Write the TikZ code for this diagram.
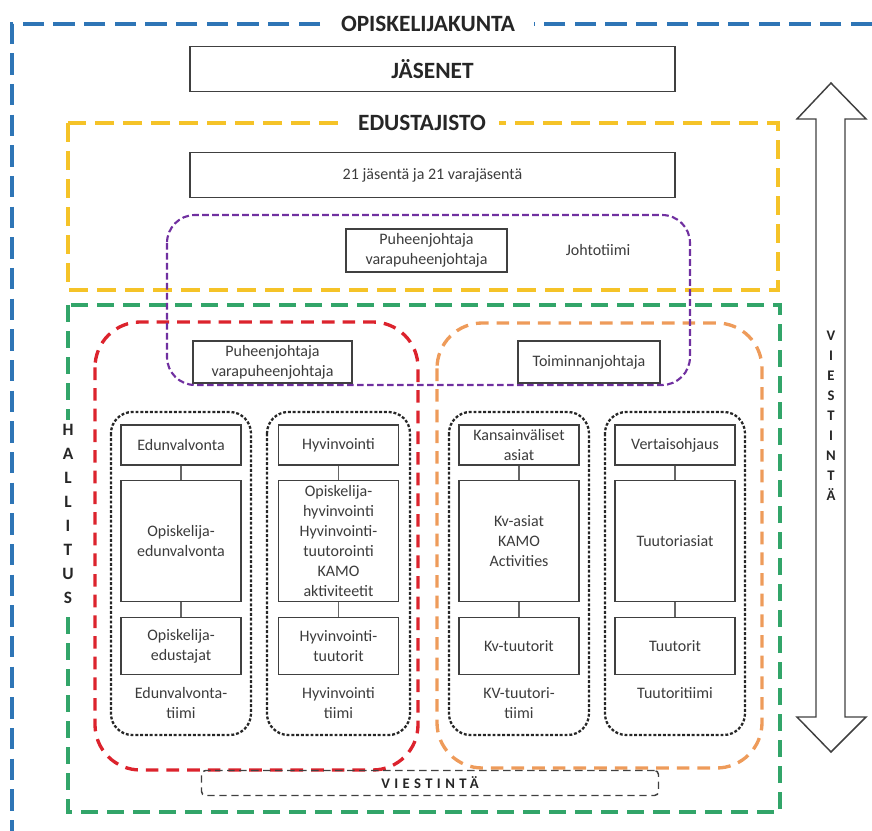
\documentclass[tikz,border=0pt]{standalone}
\usepackage{fontspec}
\setmainfont{Carlito}
\usetikzlibrary{positioning}
\definecolor{kuntablue}{RGB}{46,117,182}
\definecolor{edugold}{RGB}{245,195,40}
\definecolor{hallgreen}{RGB}{50,165,105}
\definecolor{edured}{RGB}{220,35,45}
\definecolor{toimorange}{RGB}{238,155,90}
\definecolor{johtopurple}{RGB}{112,48,160}
\definecolor{boxgray}{RGB}{64,64,64}
\definecolor{textgray}{RGB}{60,60,60}

\begin{document}
\begin{tikzpicture}[x=0.75pt,y=-0.75pt,
  every node/.style={font=\fontsize{12}{15}\selectfont, text=textgray},
  main/.style={draw=boxgray, line width=1.1pt, fill=white, align=center, inner sep=1pt},
  widebox/.style={main, minimum width=363.75pt, minimum height=33.75pt},
  headbox/.style={main, minimum width=90pt, minimum height=30pt},
  midbox/.style={main, minimum width=90pt, minimum height=90.75pt},
  footbox/.style={main, minimum width=90pt, minimum height=42.75pt},
  team/.style={align=center, inner sep=0pt},
  title/.style={fill=white, text=black!85, font=\fontsize{17.5}{20}\selectfont\bfseries},
  vtext/.style={fill=white, align=center, text=black!85, inner xsep=2pt},
  link/.style={draw=boxgray!80, line width=0.8pt},
  kunta/.style={draw=kuntablue, line width=2.3pt, dash pattern=on 16pt off 7pt},
  edu/.style={draw=edugold, line width=2.3pt, dash pattern=on 14pt off 7pt},
  hall/.style={draw=hallgreen, line width=2.3pt, dash pattern=on 12.5pt off 7pt},
  red/.style={draw=edured, line width=2.5pt, dash pattern=on 9.5pt off 6pt, rounded corners=34pt},
  orange/.style={draw=toimorange, line width=2.5pt, dash pattern=on 9.5pt off 6pt, rounded corners=34pt},
  johto/.style={draw=johtopurple, line width=1.6pt, dash pattern=on 5pt off 2.5pt, rounded corners=21pt},
  tiimi/.style={draw=black!85, line width=1.7pt, dash pattern=on 2.2pt off 1.4pt, rounded corners=16pt}]
\useasboundingbox (0,0) rectangle (872,831);

\draw[kunta] (872,24) -| (12,831);
\draw[edu] (68,123) rectangle (778,290);
\draw[hall] (68,305) rectangle (780,812);
\draw[red] (95,322) rectangle (418,770);
\draw[orange] (437,323) rectangle (762,768);
\draw[johto] (167,215) rectangle (690,385);
\draw[tiimi] (111,412) rectangle (251,735);
\draw[tiimi] (267,412) rectangle (410,735);
\draw[tiimi] (449,412) rectangle (589,735);
\draw[tiimi] (605,412) rectangle (745,735);

\node[title, inner xsep=14pt] (kunta) at (428,24) {OPISKELIJAKUNTA};
\node[title, inner xsep=10pt] (edus) at (422,123) {EDUSTAJISTO};
\node[widebox, font=\fontsize{17.5}{20}\selectfont\bfseries, text=black!85] (jas) at (432.5,69) {JÄSENET};
\node[widebox] (jasenia) at (432.5,175) {21 jäsentä ja 21 varajäsentä};
\node[main, minimum width=120.75pt, minimum height=32.25pt] (pj1) at (426.5,250.5) {Puheenjohtaja\\varapuheenjohtaja};
\node (johto) at (598,250) {Johtotiimi};
\node[main, minimum width=119.25pt, minimum height=31.5pt] (pj2) at (272.5,362) {Puheenjohtaja\\varapuheenjohtaja};
\node[main, minimum width=106.5pt, minimum height=31.5pt] (tj) at (589,362) {Toiminnanjohtaja};

\node[vtext, font=\fontsize{13}{18}\selectfont\bfseries] (hallitus) at (68,514) {H\\A\\L\\L\\I\\T\\U\\S};

\node[headbox] (e1) at (181,445) {Edunvalvonta};
\node[midbox] (e2) [below=10.5pt of e1] {Opiskelija-\\edunvalvonta};
\node[footbox] (e3) [below=11pt of e2] {Opiskelija-\\edustajat};
\node[team] (e4) [below=9pt of e3] {Edunvalvonta-\\tiimi};

\node[headbox] (h1) at (338.5,445) {Hyvinvointi};
\node[midbox] (h2) [below=10.5pt of h1] {Opiskelija-\\hyvinvointi\\Hyvinvointi-\\tuutorointi\\KAMO\\aktiviteetit};
\node[footbox] (h3) [below=11pt of h2] {Hyvinvointi-\\tuutorit};
\node[team] (h4) [below=9pt of h3] {Hyvinvointi\\tiimi};

\node[headbox] (k1) at (519,445) {Kansainväliset\\asiat};
\node[midbox] (k2) [below=10.5pt of k1] {Kv-asiat\\KAMO\\Activities};
\node[footbox] (k3) [below=11pt of k2] {Kv-tuutorit};
\node[team] (k4) [below=9pt of k3] {KV-tuutori-\\tiimi};

\node[headbox] (t1) at (675,445) {Vertaisohjaus};
\node[midbox] (t2) [below=10.5pt of t1] {Tuutoriasiat};
\node[footbox] (t3) [below=11pt of t2] {Tuutorit};
\node[team] (t4) [below=9pt of t3] {Tuutoritiimi\\\strut};

\draw[link] (e1) -- (e2);
\draw[link] (e2) -- (e3);
\draw[link] (h1) -- (h2);
\draw[link] (h2) -- (h3);
\draw[link] (k1) -- (k2);
\draw[link] (k2) -- (k3);
\draw[link] (t1) -- (t2);
\draw[link] (t2) -- (t3);

\node[draw=boxgray, line width=1.1pt, dash pattern=on 5.5pt off 3.5pt, rounded corners=3pt,
  minimum width=342.75pt, minimum height=18.75pt, text=black!85,
  font=\fontsize{11}{13}\selectfont\bfseries\addfontfeature{LetterSpace=30}] (viest) at (430,783) {VIESTINTÄ};

\draw[draw=boxgray, line width=1.1pt] (831,83) -- (866,119) -- (845,119) -- (845,717) -- (866,717)
  -- (831,752) -- (797,717) -- (816,717) -- (816,119) -- (797,119) -- cycle;
\node[align=center, text=black!85, font=\fontsize{11}{15}\selectfont\bfseries] (viestv) at (831,416) {V\\I\\E\\S\\T\\I\\N\\T\\Ä};
\end{tikzpicture}
\end{document}
